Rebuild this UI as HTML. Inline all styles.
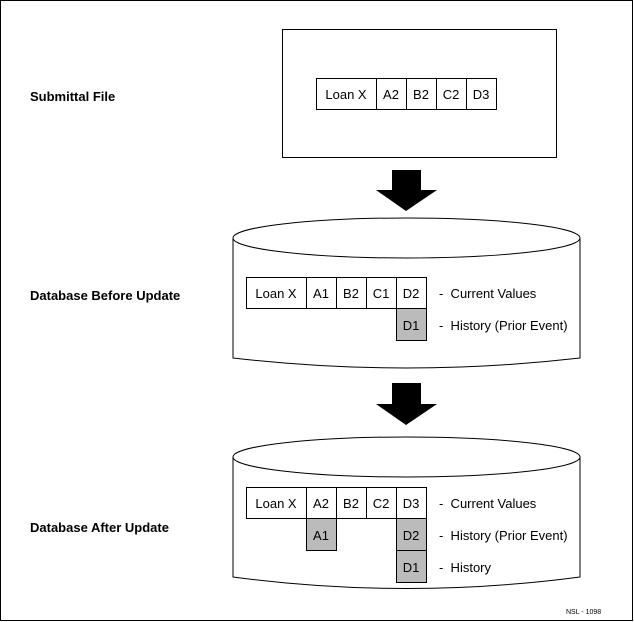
<!DOCTYPE html>
<html><head><style>
html,body{margin:0;padding:0;background:#fff;}
svg{display:block;font-family:"Liberation Sans",sans-serif;}
</style></head><body>
<svg width="634" height="622" viewBox="0 0 634 622" xmlns="http://www.w3.org/2000/svg">
<rect x="0.5" y="0.5" width="632" height="620" fill="#fff" stroke="#000"/>
<g font-size="13" font-weight="bold">
<text x="30" y="101">Submittal File</text>
<text x="30" y="300">Database Before Update</text>
<text x="30" y="532">Database After Update</text>
</g>
<rect x="282.5" y="29.5" width="274" height="128" fill="#fff" stroke="#000"/>
<g fill="#fff" stroke="#000">
<rect x="316.5" y="78.5" width="60" height="31"/>
<rect x="376.5" y="78.5" width="30" height="31"/>
<rect x="406.5" y="78.5" width="30" height="31"/>
<rect x="436.5" y="78.5" width="30" height="31"/>
<rect x="466.5" y="78.5" width="30" height="31"/>
</g>
<g font-size="13" text-anchor="middle">
<text x="346" y="99">Loan X</text><text x="391" y="99">A2</text><text x="421" y="99">B2</text><text x="451" y="99">C2</text><text x="481" y="99">D3</text>
</g>
<polygon points="392,170 421,170 421,190 437,190 406,211 376,190 392,190" fill="#000"/>
<path d="M233,238 L233,358 Q406,378 580,358 L580,238" fill="#fff" stroke="#000"/>
<ellipse cx="406.5" cy="238" rx="173.5" ry="20" fill="#fff" stroke="#000"/>
<g fill="#fff" stroke="#000">
<rect x="246.5" y="277.5" width="60" height="31"/>
<rect x="306.5" y="277.5" width="30" height="31"/>
<rect x="336.5" y="277.5" width="30" height="31"/>
<rect x="366.5" y="277.5" width="30" height="31"/>
<rect x="396.5" y="277.5" width="30" height="31"/>
<rect x="396.5" y="308.5" width="30" height="32" fill="#bbb"/>
</g>
<g font-size="13">
<g text-anchor="middle">
<text x="276" y="298">Loan X</text><text x="321" y="298">A1</text><text x="351" y="298">B2</text><text x="381" y="298">C1</text><text x="411" y="298">D2</text><text x="411" y="330">D1</text>
</g>
<text x="439" y="298">-&#160;&#160;Current Values</text>
<text x="439" y="330">-&#160;&#160;History (Prior Event)</text>
</g>
<polygon points="392,383 421,383 421,404 437,404 406,425 376,404 392,404" fill="#000"/>
<path d="M233,457 L233,577 Q406,600 580,577 L580,457" fill="#fff" stroke="#000"/>
<ellipse cx="406.5" cy="457" rx="173.5" ry="20" fill="#fff" stroke="#000"/>
<g fill="#fff" stroke="#000">
<rect x="246.5" y="487.5" width="60" height="31"/>
<rect x="306.5" y="487.5" width="30" height="31"/>
<rect x="336.5" y="487.5" width="30" height="31"/>
<rect x="366.5" y="487.5" width="30" height="31"/>
<rect x="396.5" y="487.5" width="30" height="31"/>
<rect x="306.5" y="518.5" width="30" height="32" fill="#bbb"/>
<rect x="396.5" y="518.5" width="30" height="32" fill="#bbb"/>
<rect x="396.5" y="550.5" width="30" height="32" fill="#bbb"/>
</g>
<g font-size="13">
<g text-anchor="middle">
<text x="276" y="508">Loan X</text><text x="321" y="508">A2</text><text x="351" y="508">B2</text><text x="381" y="508">C2</text><text x="411" y="508">D3</text>
<text x="321" y="540">A1</text><text x="411" y="540">D2</text><text x="411" y="572">D1</text>
</g>
<text x="439" y="508">-&#160;&#160;Current Values</text>
<text x="439" y="540">-&#160;&#160;History (Prior Event)</text>
<text x="439" y="572">-&#160;&#160;History</text>
</g>
<text x="566" y="614" font-size="7">NSL - 1098</text>
</svg>
</body></html>
